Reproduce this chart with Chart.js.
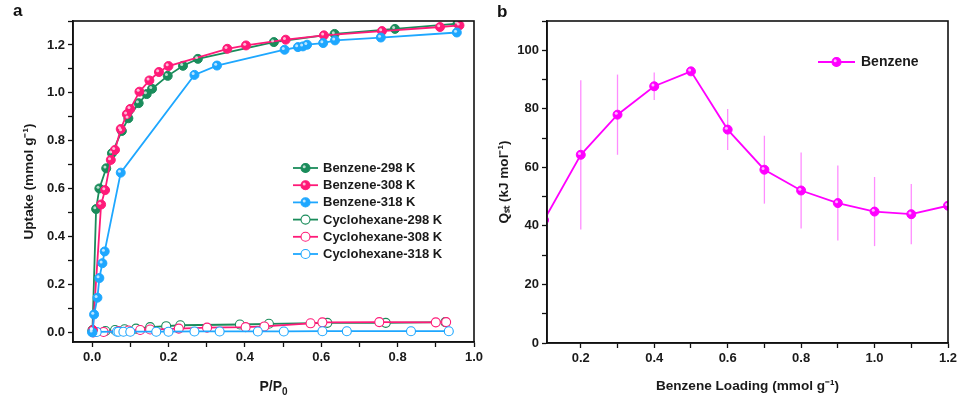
<!DOCTYPE html>
<html>
<head>
<meta charset="utf-8">
<script src="https://cdn.jsdelivr.net/npm/chart.js@4.4.0/dist/chart.umd.min.js"></script>
<style>
  body { margin: 0; background: #fff; width: 960px; height: 400px; position: relative; overflow: hidden;
         font-family: "Liberation Sans", Arial, sans-serif; }
  .panel { position: absolute; top: 0; height: 400px; }
  .tag { position: absolute; font-weight: bold; font-size: 17px; color: #111; }
</style>
</head>
<body>
<div class="panel" style="left:0;width:500px"><canvas id="chartA" width="500" height="400"></canvas></div>
<div class="panel" style="left:480px;width:480px"><canvas id="chartB" width="480" height="400"></canvas></div>
<div class="tag" style="left:13px;top:1px">a</div>
<div class="tag" style="left:497px;top:2px">b</div>
<script>
// Panel a - isotermas (P/P0 vs uptake)
const b298P = [0.001, 0.0105, 0.019, 0.037, 0.052, 0.078, 0.095, 0.122, 0.143, 0.157, 0.198, 0.238, 0.277, 0.476, 0.635, 0.793, 0.957];
const b298U = [0.01, 0.515, 0.601, 0.685, 0.748, 0.841, 0.894, 0.957, 0.995, 1.017, 1.071, 1.113, 1.142, 1.212, 1.246, 1.267, 1.289];
const b308P = [0.002, 0.0236, 0.034, 0.049, 0.060, 0.075, 0.091, 0.100, 0.124, 0.150, 0.175, 0.200, 0.354, 0.403, 0.507, 0.607, 0.759, 0.911, 0.962];
const b308U = [0.01, 0.534, 0.594, 0.720, 0.762, 0.849, 0.911, 0.933, 1.005, 1.052, 1.087, 1.112, 1.184, 1.198, 1.222, 1.240, 1.258, 1.275, 1.282];
const b318P = [0.001, 0.0052, 0.014, 0.019, 0.027, 0.033, 0.075, 0.268, 0.327, 0.504, 0.539, 0.552, 0.563, 0.605, 0.636, 0.756, 0.955];
const b318U = [0.0, 0.075, 0.145, 0.227, 0.289, 0.338, 0.667, 1.075, 1.114, 1.180, 1.191, 1.194, 1.201, 1.208, 1.219, 1.231, 1.252];
const c298P = [0.004, 0.035, 0.060, 0.085, 0.115, 0.152, 0.194, 0.231, 0.387, 0.463, 0.616, 0.769, 0.925];
const c298U = [0.002, 0.006, 0.010, 0.013, 0.016, 0.022, 0.026, 0.030, 0.033, 0.036, 0.040, 0.040, 0.043];
const c308P = [0.003, 0.030, 0.069, 0.095, 0.126, 0.152, 0.227, 0.301, 0.402, 0.451, 0.572, 0.603, 0.752, 0.900, 0.927];
const c308U = [0.0, 0.002, 0.006, 0.008, 0.010, 0.012, 0.016, 0.020, 0.022, 0.025, 0.038, 0.042, 0.043, 0.042, 0.043];
const c318P = [0.0, 0.012, 0.065, 0.069, 0.082, 0.100, 0.168, 0.200, 0.268, 0.334, 0.434, 0.502, 0.603, 0.667, 0.835, 0.934];
const c318U = [0.002, 0.002, 0.003, 0.003, 0.003, 0.003, 0.003, 0.003, 0.004, 0.004, 0.004, 0.004, 0.005, 0.005, 0.005, 0.005];

// Panel b - calor isostérico
const loading = [0.1, 0.2, 0.3, 0.4, 0.5, 0.6, 0.7, 0.8, 0.9, 1.0, 1.1, 1.2];
const qst = [42, 64.3, 78.0, 87.7, 92.8, 72.9, 59.2, 52.1, 47.8, 44.9, 44.0, 46.9];
const qstErr = [0, 25.5, 13.7, 4.7, 0, 7, 11.6, 13, 12.8, 11.8, 10.3, 0];

const GREEN = '#1a8c5b', PINK = '#ff1a78', BLUE = '#1ea7ff', MAGENTA = '#ff00ff';
const FONT = '"Liberation Sans", Arial, sans-serif';

function pts(xs, ys) { return xs.map((x, i) => ({ x: x, y: ys[i] })); }

function serie(label, xs, ys, color, open, order) {
    return {
        label: label, data: pts(xs, ys), order: order,
        borderColor: color, borderWidth: 1.8,
        pointRadius: 4.5, pointBorderWidth: open ? 1.1 : 1,
        pointBackgroundColor: open ? '#fff' : color,
        pointBorderColor: color, showLine: true, tension: 0,
        sphere: !open
    };
}

function evenLabel(dec) {
    return function (v) {
        const k = Math.round(v * Math.pow(10, dec));
        return k % 2 !== 0 ? '' : v.toFixed(dec);
    };
}

function axis(min, max, step, cb, size, title, tpad) {
    return {
        type: 'linear', min: min, max: max,
        afterFit: s => {
            if (s.isHorizontal()) { s.height = size; s.paddingLeft = 0; s.paddingRight = 0; }
            else { s.width = size; }
        },
        grid: { drawOnChartArea: false, tickLength: 5, tickColor: '#111', tickWidth: 1.3 },
        border: { display: true, color: '#111', width: 1.6 },
        ticks: { stepSize: step, includeBounds: false, callback: cb, color: '#1a1a1a', padding: 3,
                 maxRotation: 0, autoSkip: false, font: { family: FONT, size: 13, weight: 'bold' } },
        title: { display: !!title, text: title, color: '#1a1a1a', padding: tpad,
                 font: { family: FONT, size: 13.6, weight: 'bold' } }
    };
}

// Marco alrededor del área del gráfico + brillo en los marcadores
const framePlugin = {
    id: 'frame',
    afterDatasetsDraw(chart) {
        const ctx = chart.ctx;
        chart.data.datasets.forEach((ds, i) => {
            if (!ds.sphere) return;
            const a = chart.chartArea;
            chart.getDatasetMeta(i).data.forEach(p => {
                if (p.x < a.left || p.x > a.right) return;
                ctx.save();
                ctx.fillStyle = 'rgba(255,255,255,0.7)';
                ctx.beginPath();
                ctx.arc(p.x - 1.3, p.y - 1.3, 1.5, 0, Math.PI * 2);
                ctx.fill();
                ctx.restore();
            });
        });
        const a = chart.chartArea;
        ctx.save();
        ctx.strokeStyle = '#111';
        ctx.lineWidth = 1.6;
        ctx.strokeRect(a.left, a.top, a.right - a.left, a.bottom - a.top);
        ctx.restore();
    }
};

function drawMarker(ctx, x, y, color, open) {
    ctx.beginPath();
    ctx.arc(x, y, 4.5, 0, Math.PI * 2);
    ctx.fillStyle = open ? '#fff' : color;
    ctx.fill();
    ctx.lineWidth = 1.1;
    ctx.strokeStyle = color;
    ctx.stroke();
    if (!open) {
        ctx.fillStyle = 'rgba(255,255,255,0.7)';
        ctx.beginPath();
        ctx.arc(x - 1.3, y - 1.3, 1.5, 0, Math.PI * 2);
        ctx.fill();
    }
}

// Leyenda dentro del gráfico (panel a) + título del eje x con subíndice
const legendA = {
    id: 'legendA',
    afterDraw(chart) {
        const ctx = chart.ctx;
        ctx.save();
        chart.data.datasets.forEach((ds, i) => {
            const y = 168 + i * 17.2;
            ctx.strokeStyle = ds.borderColor;
            ctx.lineWidth = 1.8;
            ctx.beginPath(); ctx.moveTo(293, y); ctx.lineTo(318, y); ctx.stroke();
            drawMarker(ctx, 305.5, y, ds.borderColor, !ds.sphere);
            ctx.fillStyle = '#1a1a1a';
            ctx.font = 'bold 13px ' + FONT;
            ctx.textBaseline = 'middle';
            ctx.fillText(ds.label, 323, y + 0.5);
        });
        // P/P0
        const a = chart.chartArea;
        const cx = (a.left + a.right) / 2;
        ctx.font = 'bold 14px ' + FONT;
        const w1 = ctx.measureText('P/P').width;
        ctx.font = 'bold 10px ' + FONT;
        const w2 = ctx.measureText('0').width;
        const x0 = cx - (w1 + w2) / 2;
        ctx.textBaseline = 'alphabetic';
        ctx.font = 'bold 14px ' + FONT;
        ctx.fillText('P/P', x0, 391);
        ctx.font = 'bold 10px ' + FONT;
        ctx.fillText('0', x0 + w1, 395);
        ctx.restore();
    }
};

new Chart(document.getElementById('chartA'), {
    type: 'scatter',
    data: {
        datasets: [
            serie('Benzene-298 K', b298P, b298U, GREEN, false, 3),
            serie('Benzene-308 K', b308P, b308U, PINK, false, 2),
            serie('Benzene-318 K', b318P, b318U, BLUE, false, 1),
            serie('Cyclohexane-298 K', c298P, c298U, GREEN, true, 6),
            serie('Cyclohexane-308 K', c308P, c308U, PINK, true, 5),
            serie('Cyclohexane-318 K', c318P, c318U, BLUE, true, 4)
        ]
    },
    options: {
        responsive: false, animation: false,
        layout: { padding: { left: 0, top: 21, right: 26, bottom: 0 } },
        plugins: { legend: { display: false }, tooltip: { enabled: false } },
        scales: {
            x: axis(-0.05, 1.0, 0.1, evenLabel(1), 58, '', { top: 4, bottom: 6 }),
            y: axis(-0.04, 1.3, 0.1, evenLabel(1), 73, 'Uptake (mmol g\u207B\u00B9)', { top: 21, bottom: 4 })
        }
    },
    plugins: [framePlugin, legendA]
});

// Barras de error (panel b)
const errorBars = {
    id: 'errorBars',
    beforeDatasetsDraw(chart) {
        const ctx = chart.ctx, xs = chart.scales.x, ys = chart.scales.y;
        ctx.save();
        ctx.strokeStyle = '#ff8cff';
        ctx.lineWidth = 1.3;
        loading.forEach((l, i) => {
            if (!qstErr[i]) return;
            const x = xs.getPixelForValue(l);
            ctx.beginPath();
            ctx.moveTo(x, ys.getPixelForValue(qst[i] + qstErr[i]));
            ctx.lineTo(x, ys.getPixelForValue(qst[i] - qstErr[i]));
            ctx.stroke();
        });
        ctx.restore();
    }
};

const legendB = {
    id: 'legendB',
    afterDraw(chart) {
        const ctx = chart.ctx;
        ctx.save();
        ctx.strokeStyle = MAGENTA;
        ctx.lineWidth = 1.8;
        ctx.beginPath(); ctx.moveTo(338, 62); ctx.lineTo(375, 62); ctx.stroke();
        drawMarker(ctx, 356.5, 62, MAGENTA, false);
        ctx.fillStyle = '#1a1a1a';
        ctx.font = 'bold 14px ' + FONT;
        ctx.textBaseline = 'middle';
        ctx.fillText('Benzene', 381, 62.5);
        ctx.restore();
    }
};

new Chart(document.getElementById('chartB'), {
    type: 'scatter',
    data: {
        datasets: [serie('Benzene', loading, qst, MAGENTA, false, 1)]
    },
    options: {
        responsive: false, animation: false,
        layout: { padding: { left: 0, top: 21, right: 12, bottom: 0 } },
        plugins: { legend: { display: false }, tooltip: { enabled: false } },
        scales: {
            x: axis(0.108, 1.2, 0.1, evenLabel(1), 57, 'Benzene Loading (mmol g\u207B\u00B9)', { top: 4, bottom: 6 }),
            y: axis(0, 110, 10, v => (v % 20 === 0 ? String(v) : ''), 67, 'Q\u209B\u209C (kJ mol\u207B\u00B9)', { top: 16, bottom: 4 })
        }
    },
    plugins: [errorBars, framePlugin, legendB]
});
</script>
</body>
</html>
